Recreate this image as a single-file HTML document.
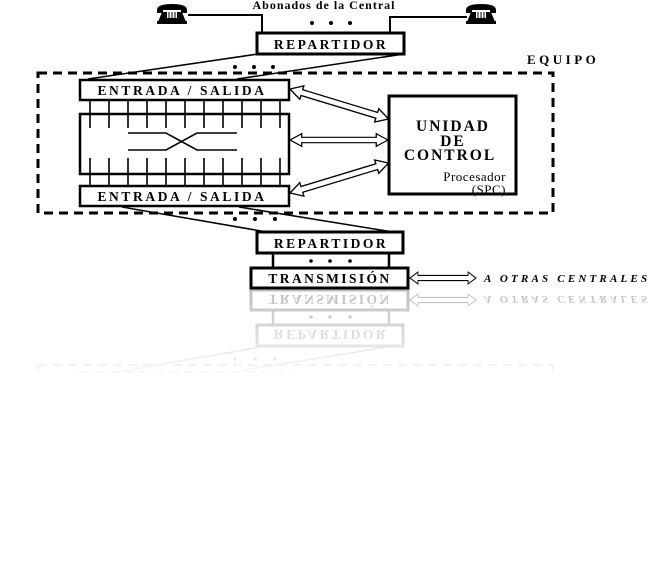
<!DOCTYPE html>
<html><head><meta charset="utf-8"><style>
html,body{margin:0;padding:0;background:#fff;}
svg{display:block;}
text{font-family:"Liberation Serif",serif;font-weight:bold;fill:#000;}
</style></head><body>
<svg width="664" height="581" viewBox="0 0 664 581" xmlns="http://www.w3.org/2000/svg">
<defs>
<g id="phone">
 <path d="M1 8 Q1 2 16 2 Q31 2 31 8 L31 11 L25 11 L25 8 L7 8 L7 11 L1 11 Z" fill="#000"/>
 <path d="M6 10 L26 10 L30 20 L2 20 Z" fill="#000"/>
 <rect x="11" y="10" width="10" height="6" fill="#fff"/>
 <path d="M13 10 V16 M16 10 V16 M19 10 V16" stroke="#000" stroke-width="1"/>
 <rect x="1" y="19" width="30" height="3" fill="#000"/>
</g>
<polygon id="arr" points="0,0 12,-7 12,-3 88,-3 88,-7 100,0 88,7 88,3 12,3 12,7" fill="#fff" stroke="#000" stroke-width="1.3"/>
<linearGradient id="fade" x1="0" y1="0" x2="0" y2="1">
 <stop offset="0" stop-color="#fff" stop-opacity="0"/>
 <stop offset="1" stop-color="#fff" stop-opacity="1"/>
</linearGradient>
</defs>

<!-- top -->
<text x="324" y="9" font-size="12" text-anchor="middle" letter-spacing="1">Abonados  de la Central</text>
<use href="#phone" x="156" y="2"/>
<use href="#phone" x="465" y="2"/>
<path d="M188 15 H262 V33 M467 17 H390 V33" fill="none" stroke="#000" stroke-width="2"/>
<circle cx="312" cy="23" r="2" fill="#000"/><circle cx="331" cy="23" r="2" fill="#000"/><circle cx="350" cy="23" r="2" fill="#000"/>
<rect x="257" y="33" width="147" height="21" fill="#fff" stroke="#000" stroke-width="3"/>
<text x="331" y="49" font-size="13.5" text-anchor="middle" letter-spacing="2.5">REPARTIDOR</text>
<path d="M258 54 L88 79 M404 54 L237 79" stroke="#000" stroke-width="1.5"/>
<circle cx="235" cy="67" r="2" fill="#000"/><circle cx="254" cy="67" r="2" fill="#000"/><circle cx="273" cy="67" r="2" fill="#000"/>

<!-- equipo -->
<text x="527" y="64" font-size="13" letter-spacing="3.5">EQUIPO</text>
<rect x="38" y="73" width="515" height="140" fill="none" stroke="#000" stroke-width="3" stroke-dasharray="9,6"/>

<rect x="80" y="80" width="209" height="20" fill="#fff" stroke="#000" stroke-width="2.5"/>
<text x="182" y="95" font-size="13.5" text-anchor="middle" letter-spacing="2.6">ENTRADA / SALIDA</text>
<rect x="80" y="114" width="209" height="60" fill="#fff" stroke="#000" stroke-width="2.5"/>
<g stroke="#000" stroke-width="1.6">
 <path d="M90 100V128M109 100V128M128 100V128M147 100V128M166 100V128M185 100V128M204 100V128M223 100V128M242 100V128M261 100V128M280 100V128"/>
 <path d="M90 158V186M109 158V186M128 158V186M147 158V186M166 158V186M185 158V186M204 158V186M223 158V186M242 158V186M261 158V186M280 158V186"/>
 <path d="M128 133 H166 L197 150 H237 M128 150 H166 L197 133 H237" fill="none"/>
</g>
<rect x="80" y="186" width="209" height="20" fill="#fff" stroke="#000" stroke-width="2.5"/>
<text x="182" y="201" font-size="13.5" text-anchor="middle" letter-spacing="2.6">ENTRADA / SALIDA</text>

<rect x="389" y="96" width="127" height="98" fill="#fff" stroke="#000" stroke-width="3"/>
<text x="453" y="131" font-size="15.5" text-anchor="middle" letter-spacing="2">UNIDAD</text>
<text x="453" y="146" font-size="15.5" text-anchor="middle" letter-spacing="2">DE</text>
<text x="450" y="160" font-size="15.5" text-anchor="middle" letter-spacing="2">CONTROL</text>
<text x="506" y="181" font-size="13" text-anchor="end" style="font-weight:normal" letter-spacing="0.5">Procesador</text>
<text x="506" y="194" font-size="13" text-anchor="end" style="font-weight:normal" letter-spacing="0.5">(SPC)</text>

<use href="#arr" transform="translate(290,89) rotate(16.9) scale(1.03,1)"/>
<use href="#arr" transform="translate(290,140) scale(0.98,0.9)"/>
<use href="#arr" transform="translate(290,193) rotate(-16.9) scale(1.03,1)"/>

<!-- bottom -->
<path d="M122 207 L267 232 M239 207 L393 232" stroke="#000" stroke-width="1.5"/>
<circle cx="235" cy="219" r="2" fill="#000"/><circle cx="255" cy="219" r="2" fill="#000"/><circle cx="275" cy="219" r="2" fill="#000"/>

<g id="lower">
<rect x="257" y="232" width="146" height="21" fill="#fff" stroke="#000" stroke-width="3"/>
<text x="331" y="248" font-size="13.5" text-anchor="middle" letter-spacing="2.5">REPARTIDOR</text>
<path d="M273 253 V268 M389 253 V268" stroke="#000" stroke-width="2.5"/>
<circle cx="311" cy="261" r="1.8" fill="#000"/><circle cx="330" cy="261" r="1.8" fill="#000"/><circle cx="350" cy="261" r="1.8" fill="#000"/>
<rect x="251" y="268" width="157" height="20" fill="#fff" stroke="#000" stroke-width="3"/>
<text x="330" y="283" font-size="13.5" text-anchor="middle" letter-spacing="2.4">TRANSMISIÓN</text>
<use href="#arr" transform="translate(410,278) scale(0.66,0.85)"/>
<text x="484" y="282" font-size="11" font-style="italic" letter-spacing="3.2">A  OTRAS  CENTRALES</text>
</g>

<!-- reflection -->
<g opacity="0.25" transform="translate(0,578) scale(1,-1)">
 <use href="#lower"/>
 <path d="M122 207 L267 232 M239 207 L393 232" stroke="#000" stroke-width="1.5"/>
 <circle cx="235" cy="219" r="2" fill="#000"/><circle cx="255" cy="219" r="2" fill="#000"/><circle cx="275" cy="219" r="2" fill="#000"/>
 <path d="M38 213 H553 M38 213 V200 M553 213 V200 M80 206 H289 V200 M80 206 V200" fill="none" stroke="#000" stroke-width="2" stroke-dasharray="9,6"/>
</g>
<rect x="0" y="292" width="664" height="90" fill="url(#fade)"/>
</svg>
</body></html>
